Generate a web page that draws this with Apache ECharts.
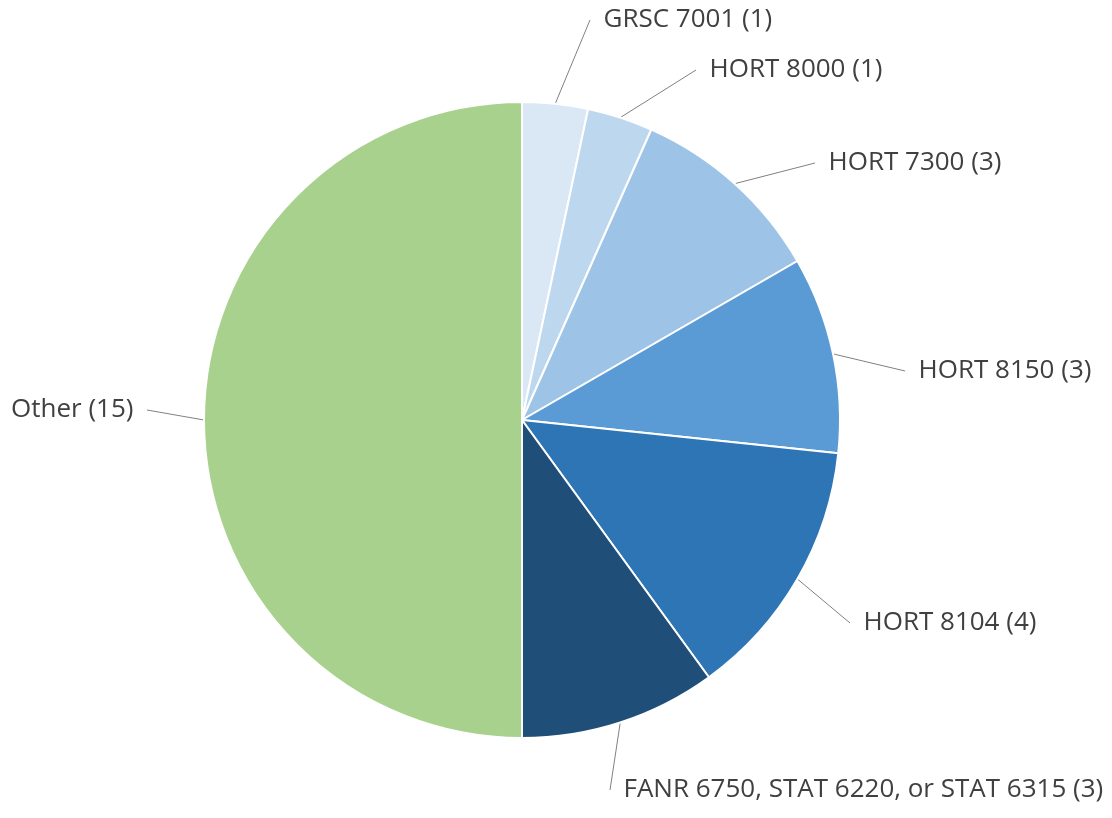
<!DOCTYPE html>
<html>
<head>
<meta charset="utf-8">
<script src="https://cdn.jsdelivr.net/npm/echarts@6/dist/echarts.min.js"></script>
<style>
html,body{margin:0;padding:0;background:#fff;}
#chart{width:1112px;height:818px;}
</style>
</head>
<body>
<div id="chart"></div>
<script>
// course names and counts
var courses = ['GRSC 7001', 'HORT 8000', 'HORT 7300', 'HORT 8150', 'HORT 8104', 'FANR 6750, STAT 6220, or STAT 6315', 'Other'];
var counts = [1, 1, 3, 3, 4, 3, 15];
var colors = ['#dae8f5', '#bdd7ee', '#9dc3e6', '#5b9bd5', '#2e75b6', '#1f4e79', '#a9d18e'];

// where each label sits (x, y, align); the spaces round the text give the gap to the line
var labelSpots = [
	[590, 20, 'left'],
	[696, 70, 'left'],
	[815, 163, 'left'],
	[905, 371, 'left'],
	[850, 623, 'left'],
	[610, 790, 'left'],
	[147, 410, 'right']
];

var pieData = [];
for (var i = 0; i < courses.length; i++) {
	pieData.push({
		name: courses[i],
		value: counts[i],
		itemStyle: { color: colors[i] }
	});
}

var myChart = echarts.init(document.getElementById('chart'));
var option = {
	animation: false,
	series: [{
		type: 'pie',
		center: [522, 420],
		radius: 318,
		startAngle: 90,
		clockwise: true,
		data: pieData,
		itemStyle: {
			borderColor: '#fff',
			borderWidth: 2
		},
		label: {
			formatter: function (p) {
				return p.dataIndex === 6 ? p.name + ' (' + p.value + ')  ' : '  ' + p.name + ' (' + p.value + ')';
			},
			color: '#404040',
			fontSize: 26,
			overflow: 'none',
			width: 600,
			fontFamily: '"Open Sans", sans-serif'
		},
		labelLine: {
			show: true,
			length: 20,
			length2: 0,
			lineStyle: { color: '#808080', width: 1 }
		},
		labelLayout: function (params) {
			var s = labelSpots[params.dataIndex];
			return { x: s[0], y: s[1], align: s[2], verticalAlign: 'middle' };
		}
	}]
};
myChart.setOption(option);
</script>
</body>
</html>
